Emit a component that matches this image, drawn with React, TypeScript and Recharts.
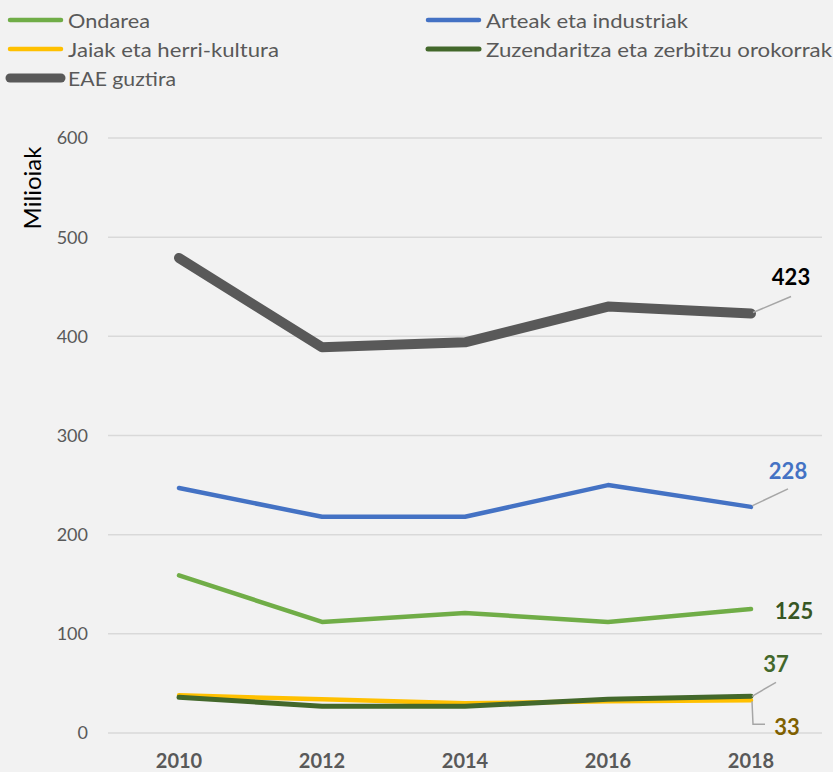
import React from 'react';
import { LineChart, Line, XAxis, YAxis, CartesianGrid } from 'recharts';

// values (milioiak)
const years = ['2010', '2012', '2014', '2016', '2018'];
const ondarea = [159, 112, 121, 112, 125];
const arteak = [247, 218, 218, 250, 228];
const jaiak = [38, 34, 30, 32, 33];
const zuzendaritza = [36, 27, 27, 34, 37];
const eaeGuztira = [479, 389, 394, 430, 423];
const yTicks = [0, 100, 200, 300, 400, 500, 600];

const series = [
  { key: 'ondarea', name: 'Ondarea', values: ondarea },
  { key: 'arteak', name: 'Arteak eta industriak', values: arteak },
  { key: 'jaiak', name: 'Jaiak eta herri-kultura', values: jaiak },
  { key: 'zuzendaritza', name: 'Zuzendaritza eta zerbitzu orokorrak', values: zuzendaritza },
  { key: 'eae', name: 'EAE guztira', values: eaeGuztira },
];

const data = years.map((year, i) => {
  const row: Record<string, string | number> = { year };
  series.forEach((s) => {
    row[s.key] = s.values[i];
  });
  return row;
});

// look of each series + where its end label sits relative to the last point
const looks: Record<string, any> = {
  ondarea: { color: '#70ad47', width: 4.5, labelColor: '#375623', dx: 43, dy: 1, leader: null, legendW: 4.5, textW: 82 },
  arteak: { color: '#4472c4', width: 4.5, labelColor: '#4472c4', dx: 37, dy: -36, leader: [[1, -1], [37, -18]], legendW: 4.5, textW: 202 },
  jaiak: { color: '#ffc000', width: 4.5, labelColor: '#7f6000', dx: 36, dy: 26, leader: [[1, 1], [2, 24], [14, 24]], legendW: 4.5, textW: 211 },
  zuzendaritza: { color: '#43682b', width: 5, labelColor: '#43682b', dx: 25, dy: -33, leader: [[1, 0], [25, -14]], legendW: 5, textW: 346 },
  eae: { color: '#595959', width: 10, labelColor: '#000000', dx: 40, dy: -37, leader: [[2, -1], [40, -17]], legendW: 9, textW: 108 },
};

const legendSpots = [
  { left: 8, top: 20 },
  { left: 426, top: 20 },
  { left: 8, top: 49 },
  { left: 426, top: 49 },
  { left: 8, top: 78 },
];

const EndLabel = (props: any, look: any, lastIndex: number) => {
  const { x, y, index, value } = props;
  if (index !== lastIndex) return <g />;
  const pts = look.leader
    ? look.leader.map((p: number[]) => `${x + p[0]},${y + p[1]}`).join(' ')
    : null;
  return (
    <g>
      {pts && <polyline points={pts} fill="none" stroke="#a6a6a6" strokeWidth={1.5} />}
      <text
        x={x + look.dx}
        y={y + look.dy}
        textAnchor="middle"
        dominantBaseline="central"
        fontSize={22}
        fontWeight="bold"
        fill={look.labelColor}
      >
        {value}
      </text>
    </g>
  );
};

const YTitle = (props: any) => {
  const vb = props.viewBox || { x: 0, y: 138 };
  const x = vb.x + 31;
  const y = vb.y + 50;
  return (
    <text
      x={x}
      y={y}
      transform={`rotate(-90 ${x} ${y})`}
      textAnchor="middle"
      dominantBaseline="central"
      fontSize={24}
      fill="#000"
    >
      Milioiak
    </text>
  );
};

export default function App() {
  return (
    <div
      style={{
        position: 'absolute',
        left: 0,
        top: 0,
        width: 833,
        height: 772,
        background: '#f2f2f2',
        fontFamily: 'Lato, "Open Sans", sans-serif',
        overflow: 'hidden',
      }}
    >
      <svg
        width={833}
        height={100}
        style={{ position: 'absolute', left: 0, top: 0 }}
      >
        {series.map((s, i) => {
          const spot = legendSpots[i];
          const look = looks[s.key];
          return (
            <g key={s.key}>
              <line
                x1={spot.left + 2}
                x2={spot.left + 53}
                y1={spot.top}
                y2={spot.top}
                stroke={look.color}
                strokeWidth={look.legendW}
                strokeLinecap="round"
              />
              <text
                x={spot.left + 60}
                y={spot.top}
                dominantBaseline="central"
                fontSize={20}
                fill="#595959"
                textLength={look.textW}
                lengthAdjust="spacingAndGlyphs"
              >
                {s.name}
              </text>
            </g>
          );
        })}
      </svg>
      <LineChart
        width={833}
        height={772}
        data={data}
        margin={{ top: 138, right: 11, bottom: 0, left: 0 }}
      >
        <CartesianGrid vertical={false} stroke="#d9d9d9" strokeWidth={1.5} />
        <XAxis
          dataKey="year"
          height={39}
          axisLine={false}
          tickLine={false}
          tickSize={0}
          tickMargin={21}
          padding={{ left: 71, right: 71 }}
          tick={{ fill: '#595959', fontSize: 20, fontWeight: 'bold' }}
        />
        <YAxis
          width={108}
          domain={[0, 600]}
          ticks={yTicks}
          axisLine={false}
          tickLine={false}
          tickSize={0}
          tickMargin={20}
          tick={{ fill: '#595959', fontSize: 18 }}
          label={<YTitle />}
        />
        {series.map((s) => (
          <Line
            key={s.key}
            dataKey={s.key}
            name={s.name}
            type="linear"
            stroke={looks[s.key].color}
            strokeWidth={looks[s.key].width}
            strokeLinecap="round"
            strokeLinejoin="round"
            dot={false}
            activeDot={false}
            isAnimationActive={false}
            label={(p: any) => EndLabel(p, looks[s.key], years.length - 1)}
          />
        ))}
      </LineChart>
    </div>
  );
}
